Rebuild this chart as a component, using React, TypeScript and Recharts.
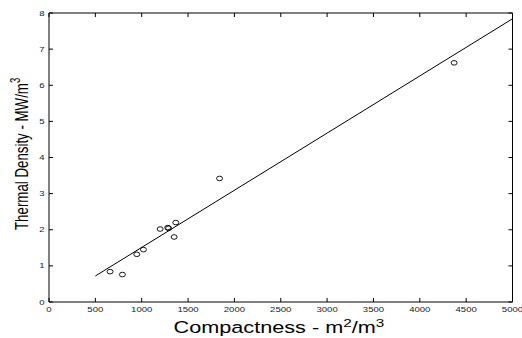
import { Scatter, ScatterChart, XAxis, YAxis } from "recharts";

// measured points
const compactness = [659, 792, 947, 1019, 1199, 1281, 1290, 1350, 1368, 1840, 4370];
const thermalDensity = [0.84, 0.76, 1.32, 1.45, 2.02, 2.06, 2.04, 1.8, 2.2, 3.42, 6.62];

// regression line end points
const fitX = [500, 5000];
const fitY = [0.72, 7.84];

const xTicks = [0, 500, 1000, 1500, 2000, 2500, 3000, 3500, 4000, 4500, 5000];
const yTicks = [0, 1, 2, 3, 4, 5, 6, 7, 8];

const points = compactness.map((c, i) => ({ x: c, y: thermalDensity[i] }));
const fitPoints = fitX.map((c, i) => ({ x: c, y: fitY[i] }));

const FONT = '"Liberation Sans", Arial, Helvetica, sans-serif';
const STRETCH = 1.37; // the original text is wide

const BottomTick = (props: any) => {
  const { x, y, payload } = props;
  return (
    <g>
      <line x1={x} y1={y} x2={x} y2={y - 4} stroke="#000" strokeWidth={1} />
      <text
        transform={`translate(${x},${y + 9.5}) scale(${STRETCH},1)`}
        textAnchor="middle"
        fontSize={7}
        fontFamily={FONT}
        fill="#222"
      >
        {payload.value}
      </text>
    </g>
  );
};

const LeftTick = (props: any) => {
  const { x, y, payload } = props;
  return (
    <g>
      <line x1={x} y1={y} x2={x + 4} y2={y} stroke="#000" strokeWidth={1} />
      <text
        transform={`translate(${x - 4.5},${y + 2.5}) scale(${STRETCH},1)`}
        textAnchor="end"
        fontSize={7}
        fontFamily={FONT}
        fill="#222"
      >
        {payload.value}
      </text>
    </g>
  );
};

const TopTick = (props: any) => {
  const { x, y } = props;
  return <line x1={x} y1={y} x2={x} y2={y + 4} stroke="#000" strokeWidth={1} />;
};

const RightTick = (props: any) => {
  const { x, y } = props;
  return <line x1={x} y1={y} x2={x - 4} y2={y} stroke="#000" strokeWidth={1} />;
};

const Circle = (props: any) => {
  const { cx, cy } = props;
  return <ellipse cx={cx} cy={cy} rx={3} ry={2.3} fill="none" stroke="#000" strokeWidth={0.9} />;
};

const NoDot = () => <g />;

export default function App() {
  return (
    <div style={{ position: "absolute", left: 0, top: 0, width: 522, height: 338, overflow: "hidden", background: "#fff" }}>
      <ScatterChart width={522} height={338} margin={{ top: 12, right: 8.5, bottom: 0, left: 0 }}>
        <XAxis
          type="number"
          dataKey="x"
          domain={[0, 5000]}
          ticks={xTicks}
          height={36}
          tickSize={0}
          tickMargin={0}
          tickLine={false}
          axisLine={{ stroke: "#000", strokeWidth: 1 }}
          tick={BottomTick}
          interval={0}
        />
        <XAxis
          xAxisId="top"
          orientation="top"
          type="number"
          dataKey="x"
          domain={[0, 5000]}
          ticks={xTicks}
          height={1}
          tickSize={0}
          tickMargin={0}
          tickLine={false}
          axisLine={{ stroke: "#000", strokeWidth: 1 }}
          tick={TopTick}
          interval={0}
        />
        <YAxis
          type="number"
          dataKey="y"
          domain={[0, 8]}
          ticks={yTicks}
          width={49}
          tickSize={0}
          tickMargin={0}
          tickLine={false}
          axisLine={{ stroke: "#000", strokeWidth: 1 }}
          tick={LeftTick}
          interval={0}
        />
        <YAxis
          yAxisId="right"
          orientation="right"
          type="number"
          dataKey="y"
          domain={[0, 8]}
          ticks={yTicks}
          width={1}
          tickSize={0}
          tickMargin={0}
          tickLine={false}
          axisLine={{ stroke: "#000", strokeWidth: 1 }}
          tick={RightTick}
          interval={0}
        />
        {/* fit line lives on the top/right axes (same domains) so those axes get drawn */}
        <Scatter
          data={fitPoints}
          xAxisId="top"
          yAxisId="right"
          line={{ stroke: "#000", strokeWidth: 1 }}
          shape={NoDot}
          isAnimationActive={false}
        />
        <Scatter data={points} shape={Circle} isAnimationActive={false} />
        <text
          transform={`translate(173.5,333) scale(1.33,1)`}
          fontSize={16.3}
          fontFamily={FONT}
          fill="#000"
        >
          Compactness - m
          <tspan fontSize={11.5} dy={-6.5}>2</tspan>
          <tspan dy={6.5}>/m</tspan>
          <tspan fontSize={11.5} dy={-6.5}>3</tspan>
        </text>
        <text
          transform={`translate(28,230) scale(1.45,1) rotate(-90)`}
          fontSize={13.3}
          fontFamily={FONT}
          fill="#000"
        >
          Thermal Density - MW/m
          <tspan fontSize={9.5} dy={-5.5}>3</tspan>
        </text>
      </ScatterChart>
    </div>
  );
}
